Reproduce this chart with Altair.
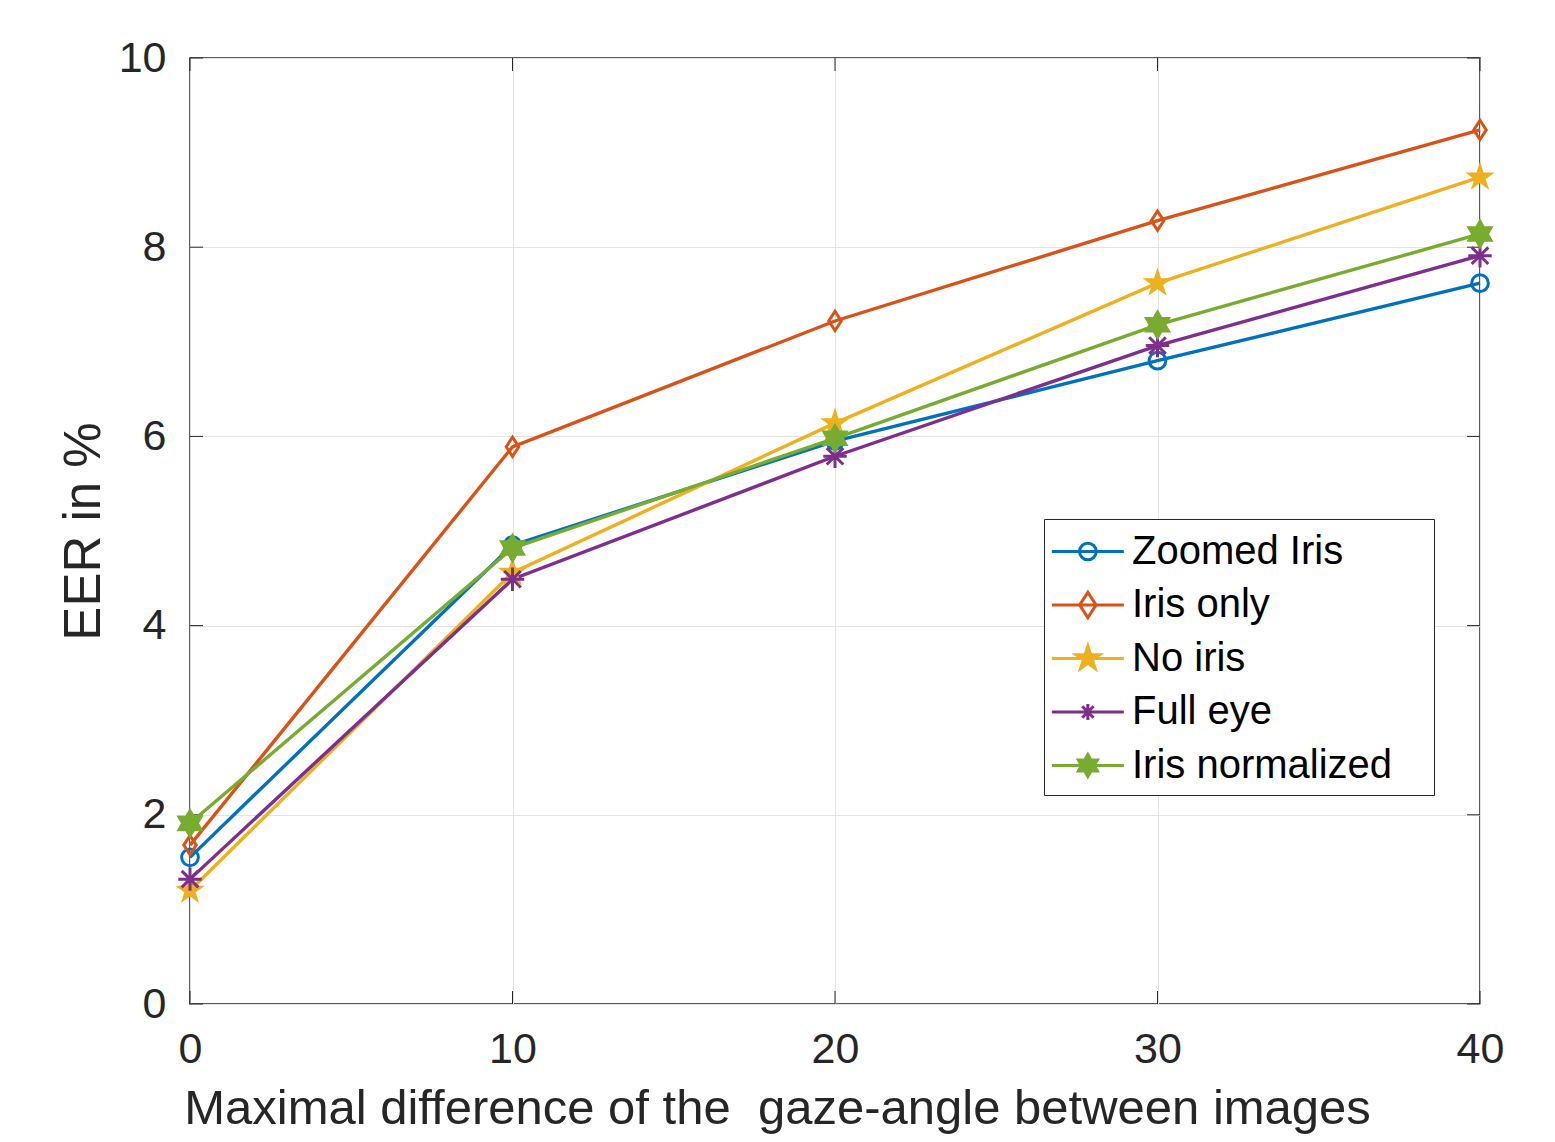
import altair as alt
import pandas as pd

# ---- data ----
angles = [0, 10, 20, 30, 40]
series_names = ["Zoomed Iris", "Iris only", "No iris", "Full eye", "Iris normalized"]
zoomed_iris = [1.55, 4.85, 5.95, 6.80, 7.62]
iris_only = [1.68, 5.89, 7.22, 8.28, 9.24]
no_iris = [1.20, 4.56, 6.14, 7.62, 8.74]
full_eye = [1.32, 4.49, 5.79, 6.96, 7.91]
iris_normalized = [1.91, 4.82, 5.98, 7.18, 8.14]
y_ticks = [0, 2, 4, 6, 8, 10]
x_ticks = [0, 10, 20, 30, 40]

colors = ["#0072BD", "#D95319", "#EDB120", "#7E2F8E", "#77AC30"]
fills = ["transparent", "transparent", "#EDB120", "#7E2F8E", "#77AC30"]

rows = []
for name, vals in zip(series_names, [zoomed_iris, iris_only, no_iris, full_eye, iris_normalized]):
    for a, v in zip(angles, vals):
        rows.append({"series": name, "x": a, "y": v})
df = pd.DataFrame(rows)

# ---- marker geometry (unit coordinates) ----
def poly(pts, k=1.0, dx=0.0):
    return "M" + " L".join(f"{x*k+dx:.4f},{y*k:.4f}" for x, y in pts) + " Z"

def circle(k=1.0, dx=0.0):
    return (f"M{k+dx:.4f},0 A{k:.4f},{k:.4f} 0 1,1 {-k+dx:.4f},0 "
            f"A{k:.4f},{k:.4f} 0 1,1 {k+dx:.4f},0 Z")

def asterisk(k=1.0, dx=0.0):
    d = 0.707 * k
    return (f"M{dx:.4f},{-k:.4f} L{dx:.4f},{k:.4f} M{-k+dx:.4f},0 L{k+dx:.4f},0 "
            f"M{-d+dx:.4f},{-d:.4f} L{d+dx:.4f},{d:.4f} M{-d+dx:.4f},{d:.4f} L{d+dx:.4f},{-d:.4f}")

diamond_pts = [(0, -1), (0.65, 0), (0, 1), (-0.65, 0)]
star_pts = [(0, -1), (0.225, -0.309), (0.951, -0.309), (0.363, 0.118), (0.588, 0.809),
            (0, 0.382), (-0.588, 0.809), (-0.363, 0.118), (-0.951, -0.309), (-0.225, -0.309)]
hex_pts = [(0, -1), (0.289, -0.5), (0.866, -0.5), (0.577, 0), (0.866, 0.5), (0.289, 0.5),
           (0, 1), (-0.289, 0.5), (-0.866, 0.5), (-0.577, 0), (-0.866, -0.5), (-0.289, -0.5)]

marker_paths = [circle(), poly(diamond_pts), poly(star_pts), asterisk(), poly(hex_pts)]
marker_sizes = [280, 640, 620, 260, 480]

# legend symbols: a 72px line segment with the marker in its middle
SYM = 44.0            # sqrt(symbolSize) in px
U = SYM / 2           # px per path unit
LINE = 72.0
x0 = -1.12
x1 = x0 + LINE / U
mid = (x0 + x1) / 2
def k_of(sz):
    return (sz ** 0.5) / 2 / U

line_seg = f"M{x0:.4f},0 L{x1:.4f},0 "
legend_paths = [
    line_seg + circle(k_of(marker_sizes[0]), mid),
    line_seg + poly(diamond_pts, k_of(marker_sizes[1]), mid),
    line_seg + poly(star_pts, k_of(marker_sizes[2]), mid),
    line_seg + asterisk(k_of(marker_sizes[3]), mid),
    line_seg + poly(hex_pts, k_of(marker_sizes[4]), mid),
]

W, H = 1290, 946
FONT = "Liberation Sans"
TXT = "#262626"

x_title = "Maximal difference of the\u00a0 gaze-angle between images"
x_enc = alt.X("x:Q", scale=alt.Scale(domain=[0, 40], nice=False, zero=False),
              axis=alt.Axis(values=x_ticks, title=x_title, format="d"))
y_enc = alt.Y("y:Q", scale=alt.Scale(domain=[0, 10], nice=False),
              axis=alt.Axis(values=y_ticks, title="EER in %", format="d"))

lines = alt.Chart(df).mark_line(strokeWidth=3.4).encode(
    x=x_enc, y=y_enc,
    color=alt.Color("series:N", scale=alt.Scale(domain=series_names, range=colors), legend=None),
    detail="series:N",
)

points = alt.Chart(df).mark_point(strokeWidth=3, opacity=1).encode(
    x=x_enc, y=y_enc,
    color=alt.Color("series:N", scale=alt.Scale(domain=series_names, range=colors), legend=None),
    fill=alt.Fill("series:N", scale=alt.Scale(domain=series_names, range=fills), legend=None),
    shape=alt.Shape("series:N", scale=alt.Scale(domain=series_names, range=marker_paths), legend=None),
    size=alt.Size("series:N", scale=alt.Scale(domain=series_names, range=marker_sizes), legend=None),
)

leg = alt.Legend(title="\u00a0", titleOrient="right", titleFontSize=10, titlePadding=33,
                 orient="none", legendX=854, legendY=461)
legend_layer = alt.Chart(df).transform_filter("false").mark_point(strokeWidth=3, opacity=1).encode(
    x=x_enc, y=y_enc,
    color=alt.Color("series:N", scale=alt.Scale(domain=series_names, range=colors), legend=leg),
    fill=alt.Fill("series:N", scale=alt.Scale(domain=series_names, range=fills), legend=leg),
    shape=alt.Shape("series:N", scale=alt.Scale(domain=series_names, range=legend_paths), legend=leg),
)

# inward tick marks on all four sides
ydf = pd.DataFrame({"y": y_ticks})
xdf = pd.DataFrame({"x": x_ticks})
TL = 13
tick_left = alt.Chart(ydf).mark_rule(color=TXT, strokeWidth=1).encode(
    y=y_enc, x=alt.value(0), x2=alt.value(TL))
tick_right = alt.Chart(ydf).mark_rule(color=TXT, strokeWidth=1).encode(
    y=y_enc, x=alt.value(W - TL), x2=alt.value(W))
tick_bottom = alt.Chart(xdf).mark_rule(color=TXT, strokeWidth=1).encode(
    x=x_enc, y=alt.value(H - TL), y2=alt.value(H))
tick_top = alt.Chart(xdf).mark_rule(color=TXT, strokeWidth=1).encode(
    x=x_enc, y=alt.value(0), y2=alt.value(TL))

chart = alt.layer(
    tick_left, tick_right, tick_bottom, tick_top, lines, points, legend_layer
).resolve_scale(
    color="independent", fill="independent", shape="independent", size="independent"
).properties(
    width=W, height=H,
    autosize=alt.AutoSizeParams(type="none"),
    padding={"left": 182, "top": 50, "right": 40, "bottom": 130},
).configure_view(
    stroke=TXT, strokeWidth=1.5
).configure_axis(
    grid=True, gridColor="#e3e3e3", gridWidth=1,
    domain=False, ticks=False,
    labelFont=FONT, labelFontSize=43, labelColor=TXT,
    titleFont=FONT, titleColor=TXT, titleFontWeight="normal",
).configure_axisX(
    labelPadding=24, titlePadding=13, labelFlush=False,
    titleFontSize=49, titleX=587, titleAlign="center",
).configure_axisY(
    labelPadding=24, titlePadding=8, titleFontSize=51,
).configure_legend(
    labelFont=FONT, labelFontSize=40, labelColor="black", labelLimit=800,
    symbolSize=SYM * SYM, symbolStrokeWidth=3, symbolOpacity=1, labelOffset=32,
    padding=9, strokeColor=TXT, fillColor="white", rowPadding=9.5,
)

chart.save("out.html", embed_options={"renderer": "svg", "actions": False})
